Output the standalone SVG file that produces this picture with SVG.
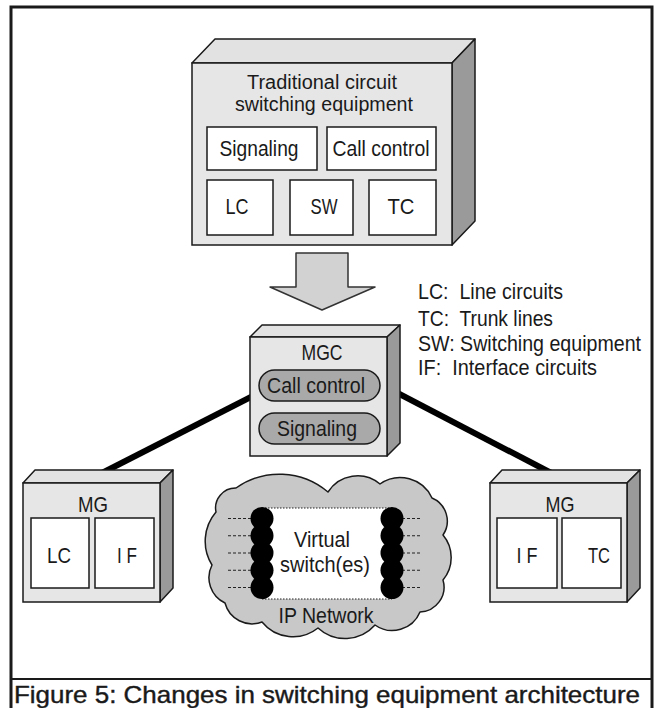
<svg xmlns="http://www.w3.org/2000/svg" width="655" height="708" viewBox="0 0 655 708">
  <style>
    .t { font-family: "Liberation Sans", Arial, sans-serif; font-size: 21.5px; fill: #1a1a1a; }
    .h { font-size: 20px; }
    .c { text-anchor: middle; }
    .front { fill: #e6e6e6; stroke: #1a1a1a; stroke-width: 1.5; }
    .top { fill: #e2e2e2; stroke: #1a1a1a; stroke-width: 1.5; stroke-linejoin: round; }
    .side { fill: #9a9a9a; stroke: #1a1a1a; stroke-width: 1.5; stroke-linejoin: round; }
    .card { fill: #ffffff; stroke: #1a1a1a; stroke-width: 1.5; }
    .pill { fill: #a9a9a9; stroke: #1a1a1a; stroke-width: 1.5; }
    .link { stroke: #000000; stroke-width: 6; }
    .dash { stroke: #222222; stroke-width: 1.2; stroke-dasharray: 3 2; }
    .dot { stroke: #222222; stroke-width: 1.2; stroke-dasharray: 1.5 1.5; }
  </style>

  <rect width="655" height="708" fill="#ffffff"/>

  <!-- frame and caption strip -->
  <rect x="11" y="7" width="641" height="712" fill="none" stroke="#1a1a1a" stroke-width="3"/>
  <line x1="11" y1="679" x2="652" y2="679" stroke="#1a1a1a" stroke-width="2"/>
  <text class="t" x="14" y="703" style="font-size:24px" stroke="#1a1a1a" stroke-width="0.4" textLength="626" lengthAdjust="spacingAndGlyphs">Figure 5: Changes in switching equipment architecture</text>

  <!-- connectors between the controller and the gateways -->
  <g id="connectors">
    <line class="link" x1="100" y1="474" x2="300" y2="372"/>
    <line class="link" x1="340" y1="363" x2="557" y2="476"/>
  </g>

  <!-- traditional switch -->
  <g id="traditional-switch">
    <polygon class="top" points="192,63 215,39 475,39 452,63"/>
    <polygon class="side" points="452,63 475,39 475,221 452,245"/>
    <rect class="front" x="192" y="63" width="260" height="182"/>
    <text class="t h c" x="322" y="89" textLength="150" lengthAdjust="spacingAndGlyphs">Traditional circuit</text>
    <text class="t h c" x="324" y="111" textLength="178" lengthAdjust="spacingAndGlyphs">switching equipment</text>
    <rect class="card" x="207" y="127" width="110" height="43"/>
    <text class="t c" x="259" y="156" textLength="79" lengthAdjust="spacingAndGlyphs">Signaling</text>
    <rect class="card" x="327" y="127" width="109" height="43"/>
    <text class="t c" x="381" y="156" textLength="97" lengthAdjust="spacingAndGlyphs">Call control</text>
    <rect class="card" x="207" y="180" width="66" height="55"/>
    <text class="t c" x="237" y="214" textLength="23" lengthAdjust="spacingAndGlyphs">LC</text>
    <rect class="card" x="290" y="180" width="63" height="55"/>
    <text class="t c" x="324" y="214" textLength="27" lengthAdjust="spacingAndGlyphs">SW</text>
    <rect class="card" x="369" y="180" width="67" height="55"/>
    <text class="t c" x="401" y="214" textLength="27" lengthAdjust="spacingAndGlyphs">TC</text>
  </g>

  <!-- transition arrow -->
  <g id="transition-arrow">
    <polygon points="296,253 348,253 348,287 375,287 322,310 270,287 296,287" fill="#d2d2d2" stroke="#333333" stroke-width="1.5" stroke-linejoin="round"/>
  </g>

  <!-- legend -->
  <g id="legend">
    <text class="t" x="418" y="299" xml:space="preserve" textLength="145" lengthAdjust="spacingAndGlyphs">LC:  Line circuits</text>
    <text class="t" x="418" y="326" xml:space="preserve" textLength="135" lengthAdjust="spacingAndGlyphs">TC:  Trunk lines</text>
    <text class="t" x="418" y="351" xml:space="preserve" textLength="223" lengthAdjust="spacingAndGlyphs">SW: Switching equipment</text>
    <text class="t" x="418" y="375" xml:space="preserve" textLength="179" lengthAdjust="spacingAndGlyphs">IF:  Interface circuits</text>
  </g>

  <!-- media gateway controller -->
  <g id="mgc">
    <polygon class="top" points="250,337 262,325 400,325 387,337"/>
    <polygon class="side" points="387,337 400,325 400,443 387,456"/>
    <rect class="front" x="250" y="337" width="137" height="119"/>
    <text class="t c" x="322" y="360" textLength="41" lengthAdjust="spacingAndGlyphs">MGC</text>
    <rect class="pill" x="259" y="370" width="121" height="31" rx="15.5"/>
    <text class="t c" x="316" y="393" textLength="98" lengthAdjust="spacingAndGlyphs">Call control</text>
    <rect class="pill" x="259" y="413" width="121" height="31" rx="15.5"/>
    <text class="t c" x="317" y="436" textLength="80" lengthAdjust="spacingAndGlyphs">Signaling</text>
  </g>

  <!-- left media gateway -->
  <g id="mg-left">
    <polygon class="top" points="23,483 35,470 173,470 160,483"/>
    <polygon class="side" points="160,483 173,470 173,588 160,602"/>
    <rect class="front" x="23" y="483" width="137" height="119"/>
    <text class="t c" x="93" y="512" textLength="30" lengthAdjust="spacingAndGlyphs">MG</text>
    <rect class="card" x="31" y="518" width="58" height="70"/>
    <text class="t c" x="59" y="563" textLength="24" lengthAdjust="spacingAndGlyphs">LC</text>
    <rect class="card" x="95" y="518" width="59" height="70"/>
    <text class="t c" x="127" y="563" xml:space="preserve" textLength="20" lengthAdjust="spacingAndGlyphs">I F</text>
  </g>

  <!-- IP network cloud with virtual switch -->
  <g id="ip-network">
    <path d="M216,512 A20,20 0 0 1 236,488 A75,75 0 0 1 328,492 A35,35 0 0 1 380,484 A35,35 0 0 1 432,498 A25,25 0 0 1 443,535 A35,35 0 0 1 443,580 A25,25 0 0 1 420,612 A30,30 0 0 1 375,625 A40,40 0 0 1 318,628 A40,40 0 0 1 262,622 A28,28 0 0 1 225,603 A28,28 0 0 1 212,565 A45,45 0 0 1 216,512 Z" fill="#c8c8c8" stroke="#1a1a1a" stroke-width="1.5" stroke-linejoin="round"/>
    <rect x="262" y="508" width="130" height="91" fill="#ffffff"/>
    <line class="dot" x1="262" y1="508" x2="392" y2="508"/>
    <line class="dot" x1="262" y1="599" x2="392" y2="599"/>
    <g class="dash">
      <line x1="228" y1="518.5" x2="262" y2="518.5"/>
      <line x1="228" y1="535.75" x2="262" y2="535.75"/>
      <line x1="228" y1="553" x2="262" y2="553"/>
      <line x1="228" y1="570.25" x2="262" y2="570.25"/>
      <line x1="228" y1="587.5" x2="262" y2="587.5"/>
      <line x1="392" y1="518.5" x2="422" y2="518.5"/>
      <line x1="392" y1="535.75" x2="422" y2="535.75"/>
      <line x1="392" y1="553" x2="422" y2="553"/>
      <line x1="392" y1="570.25" x2="422" y2="570.25"/>
      <line x1="392" y1="587.5" x2="422" y2="587.5"/>
    </g>
    <g fill="#000000">
      <circle cx="262" cy="518.5" r="11.5"/>
      <circle cx="262" cy="535.75" r="11.5"/>
      <circle cx="262" cy="553" r="11.5"/>
      <circle cx="262" cy="570.25" r="11.5"/>
      <circle cx="262" cy="587.5" r="11.5"/>
      <circle cx="392" cy="518.5" r="11.5"/>
      <circle cx="392" cy="535.75" r="11.5"/>
      <circle cx="392" cy="553" r="11.5"/>
      <circle cx="392" cy="570.25" r="11.5"/>
      <circle cx="392" cy="587.5" r="11.5"/>
    </g>
    <text class="t c" x="322" y="547" textLength="56" lengthAdjust="spacingAndGlyphs">Virtual</text>
    <text class="t c" x="325" y="572" textLength="90" lengthAdjust="spacingAndGlyphs">switch(es)</text>
    <text class="t c" x="326" y="623" textLength="95" lengthAdjust="spacingAndGlyphs">IP Network</text>
  </g>

  <!-- right media gateway -->
  <g id="mg-right">
    <polygon class="top" points="490,483 502,470 640,470 627,483"/>
    <polygon class="side" points="627,483 640,470 640,588 627,602"/>
    <rect class="front" x="490" y="483" width="137" height="119"/>
    <text class="t c" x="560" y="512" textLength="29" lengthAdjust="spacingAndGlyphs">MG</text>
    <rect class="card" x="497" y="518" width="60" height="70"/>
    <text class="t c" x="527" y="563" xml:space="preserve" textLength="21" lengthAdjust="spacingAndGlyphs">I F</text>
    <rect class="card" x="562" y="518" width="59" height="70"/>
    <text class="t c" x="599" y="563" textLength="22" lengthAdjust="spacingAndGlyphs">TC</text>
  </g>
</svg>
